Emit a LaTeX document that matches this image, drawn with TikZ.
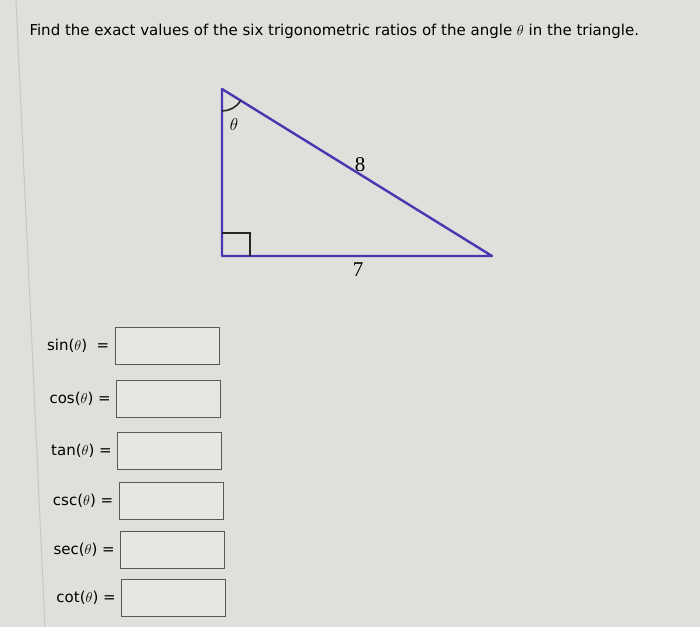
\documentclass[tikz,border=0pt]{standalone}
\usepackage{fontspec}
\setmainfont{DejaVu Sans}
\newfontfamily\numfont{Liberation Serif}
\usetikzlibrary{positioning}
\definecolor{paper}{RGB}{224,223,219}
\definecolor{boxfill}{RGB}{231,230,227}
\definecolor{sideblue}{RGB}{74,54,176}

\begin{document}
\begin{tikzpicture}[x=1pt, y=1pt, font=\fontsize{15}{18}\selectfont,
  answerbox/.style={draw=black!65, line width=1pt, fill=boxfill, minimum width=104pt, minimum height=37pt, inner sep=0pt},
  ratio/.style={inner sep=0pt}]
  \fill[paper] (0,0) rectangle (700,627);
  \useasboundingbox (0,0) rectangle (700,627);
  \draw[black!22, line width=1pt] (16,627) -- (45,0);

  \node[anchor=west] (title) at (26,596) {Find the exact values of the six trigonometric ratios of the angle $\theta$ in the triangle.};

  \coordinate (top) at (222,538);
  \coordinate (corner) at (222,371);
  \coordinate (tip) at (492,371);
  \draw[sideblue, line width=2.4pt, line join=round] (top) -- (corner) -- (tip) -- cycle;
  \draw[black!85, line width=1.6pt] ([yshift=23pt]corner) -| ([xshift=28pt]corner);
  \draw[black!85, line width=1.6pt] (top) ++(-90:22) arc[start angle=-90, end angle=-32, radius=22];
  \node (theta) at (234,502) {\fontsize{19}{22}\selectfont$\theta$};
  \node (hyp) at (360,462) {\numfont\fontsize{21}{24}\selectfont 8};
  \node (adj) at (358,357) {\numfont\fontsize{21}{24}\selectfont 7};

  \node[answerbox] (sinbox) at (167,281.5) {};
  \node[answerbox] (cosbox) at (168.5,228) {};
  \node[answerbox] (tanbox) at (169.5,176) {};
  \node[answerbox] (cscbox) at (171,126) {};
  \node[answerbox] (secbox) at (172.5,77) {};
  \node[answerbox] (cotbox) at (173.5,29) {};
  \node[ratio, left=5pt of sinbox] (sin) {sin($\theta$) \ =};
  \node[ratio, left=5pt of cosbox] (cos) {cos($\theta$) =};
  \node[ratio, left=5pt of tanbox] (tan) {tan($\theta$) =};
  \node[ratio, left=5pt of cscbox] (csc) {csc($\theta$) =};
  \node[ratio, left=5pt of secbox] (sec) {sec($\theta$) =};
  \node[ratio, left=5pt of cotbox] (cot) {cot($\theta$) =};
\end{tikzpicture}
\end{document}
